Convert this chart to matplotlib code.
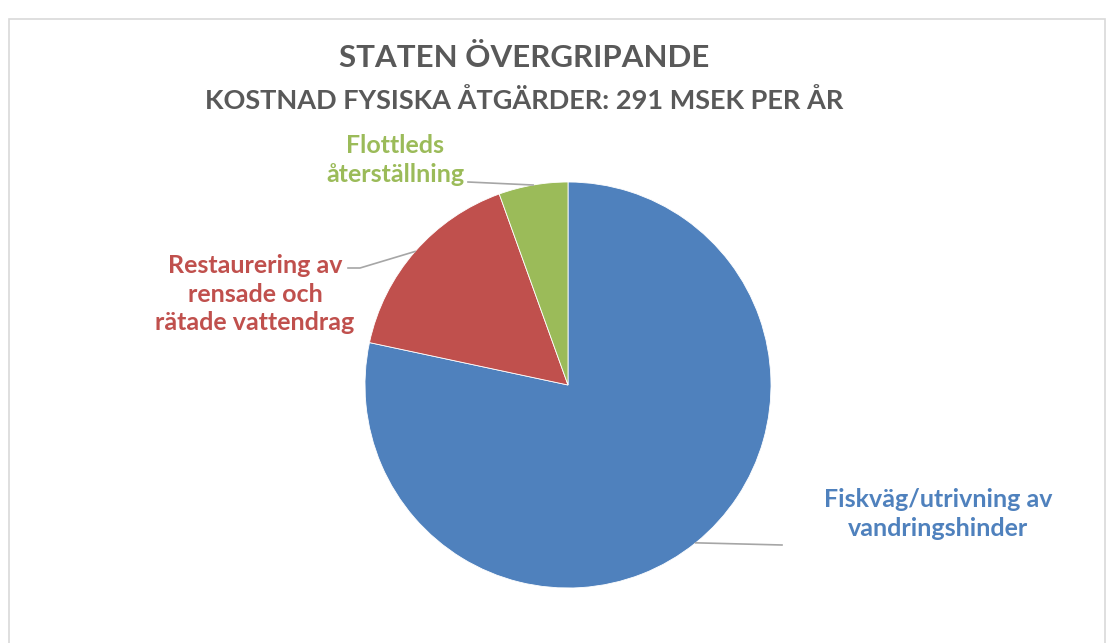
import matplotlib

matplotlib.use("Agg")
import matplotlib.pyplot as plt
import numpy as np
from matplotlib.patches import Rectangle

# kostnad per åtgärdstyp, MSEK per år (summa 291)
labels = ["Fiskväg/utrivning av\nvandringshinder",
          "Restaurering av\nrensade och\nrätade vattendrag",
          "Flottleds\nåterställning"]
values = [228, 47, 16]
colors = ["#4F81BD", "#C0504D", "#9BBB59"]

title = "STATEN ÖVERGRIPANDE"
subtitle = "KOSTNAD FYSISKA ÅTGÄRDER: 291 MSEK PER ÅR"

W, H = 1114, 643
FONT = ["Lato", "DejaVu Sans"]

fig = plt.figure(figsize=(W / 100, H / 100), dpi=100)
ax = fig.add_axes([0, 0, 1, 1])

# ram runt diagrammet
ax.add_patch(Rectangle((9, -5), W - 18, H - 5 - 9, fill=False, ec="#D9D9D9", lw=1.2))

cx, cy, r = 568, H - 385, 203
wedges, _ = ax.pie(values, colors=colors, startangle=90, counterclock=False,
                   center=(cx, cy), radius=r, frame=True,
                   wedgeprops=dict(linewidth=0.6, edgecolor="white"))
ax.set_xlim(0, W)
ax.set_ylim(0, H)
ax.axis("off")

# etiketter: (textens mittpunkt, ledlinjens knäpunkter) i pixlar, y nedåt
label_pos = [((938, 514), [(782, 545)]),
             ((255, 294), [(360, 268), (348, 268)]),
             ((395, 160), [(468, 182)])]
for w, lab, col, (tpos, knees) in zip(wedges, labels, colors, label_pos):
    ang = np.deg2rad((w.theta1 + w.theta2) / 2)
    ex, ey = cx + r * np.cos(ang), cy + r * np.sin(ang)
    xs = [ex] + [k[0] for k in knees]
    ys = [ey] + [H - k[1] for k in knees]
    ax.plot(xs, ys, color="#A6A6A6", lw=1.2, zorder=1)
    ax.text(tpos[0], H - tpos[1], lab, ha="center", va="center", color=col,
            fontsize=18, fontweight="bold", family=FONT, linespacing=1.3)

ax.text(524, H - 58, title, ha="center", va="center", color="#595959",
        fontsize=22.5, fontweight="bold", family=FONT)
ax.text(524, H - 101, subtitle, ha="center", va="center", color="#595959",
        fontsize=19.5, fontweight="bold", family=FONT)

fig.savefig("out.png", dpi=100, facecolor="white")
